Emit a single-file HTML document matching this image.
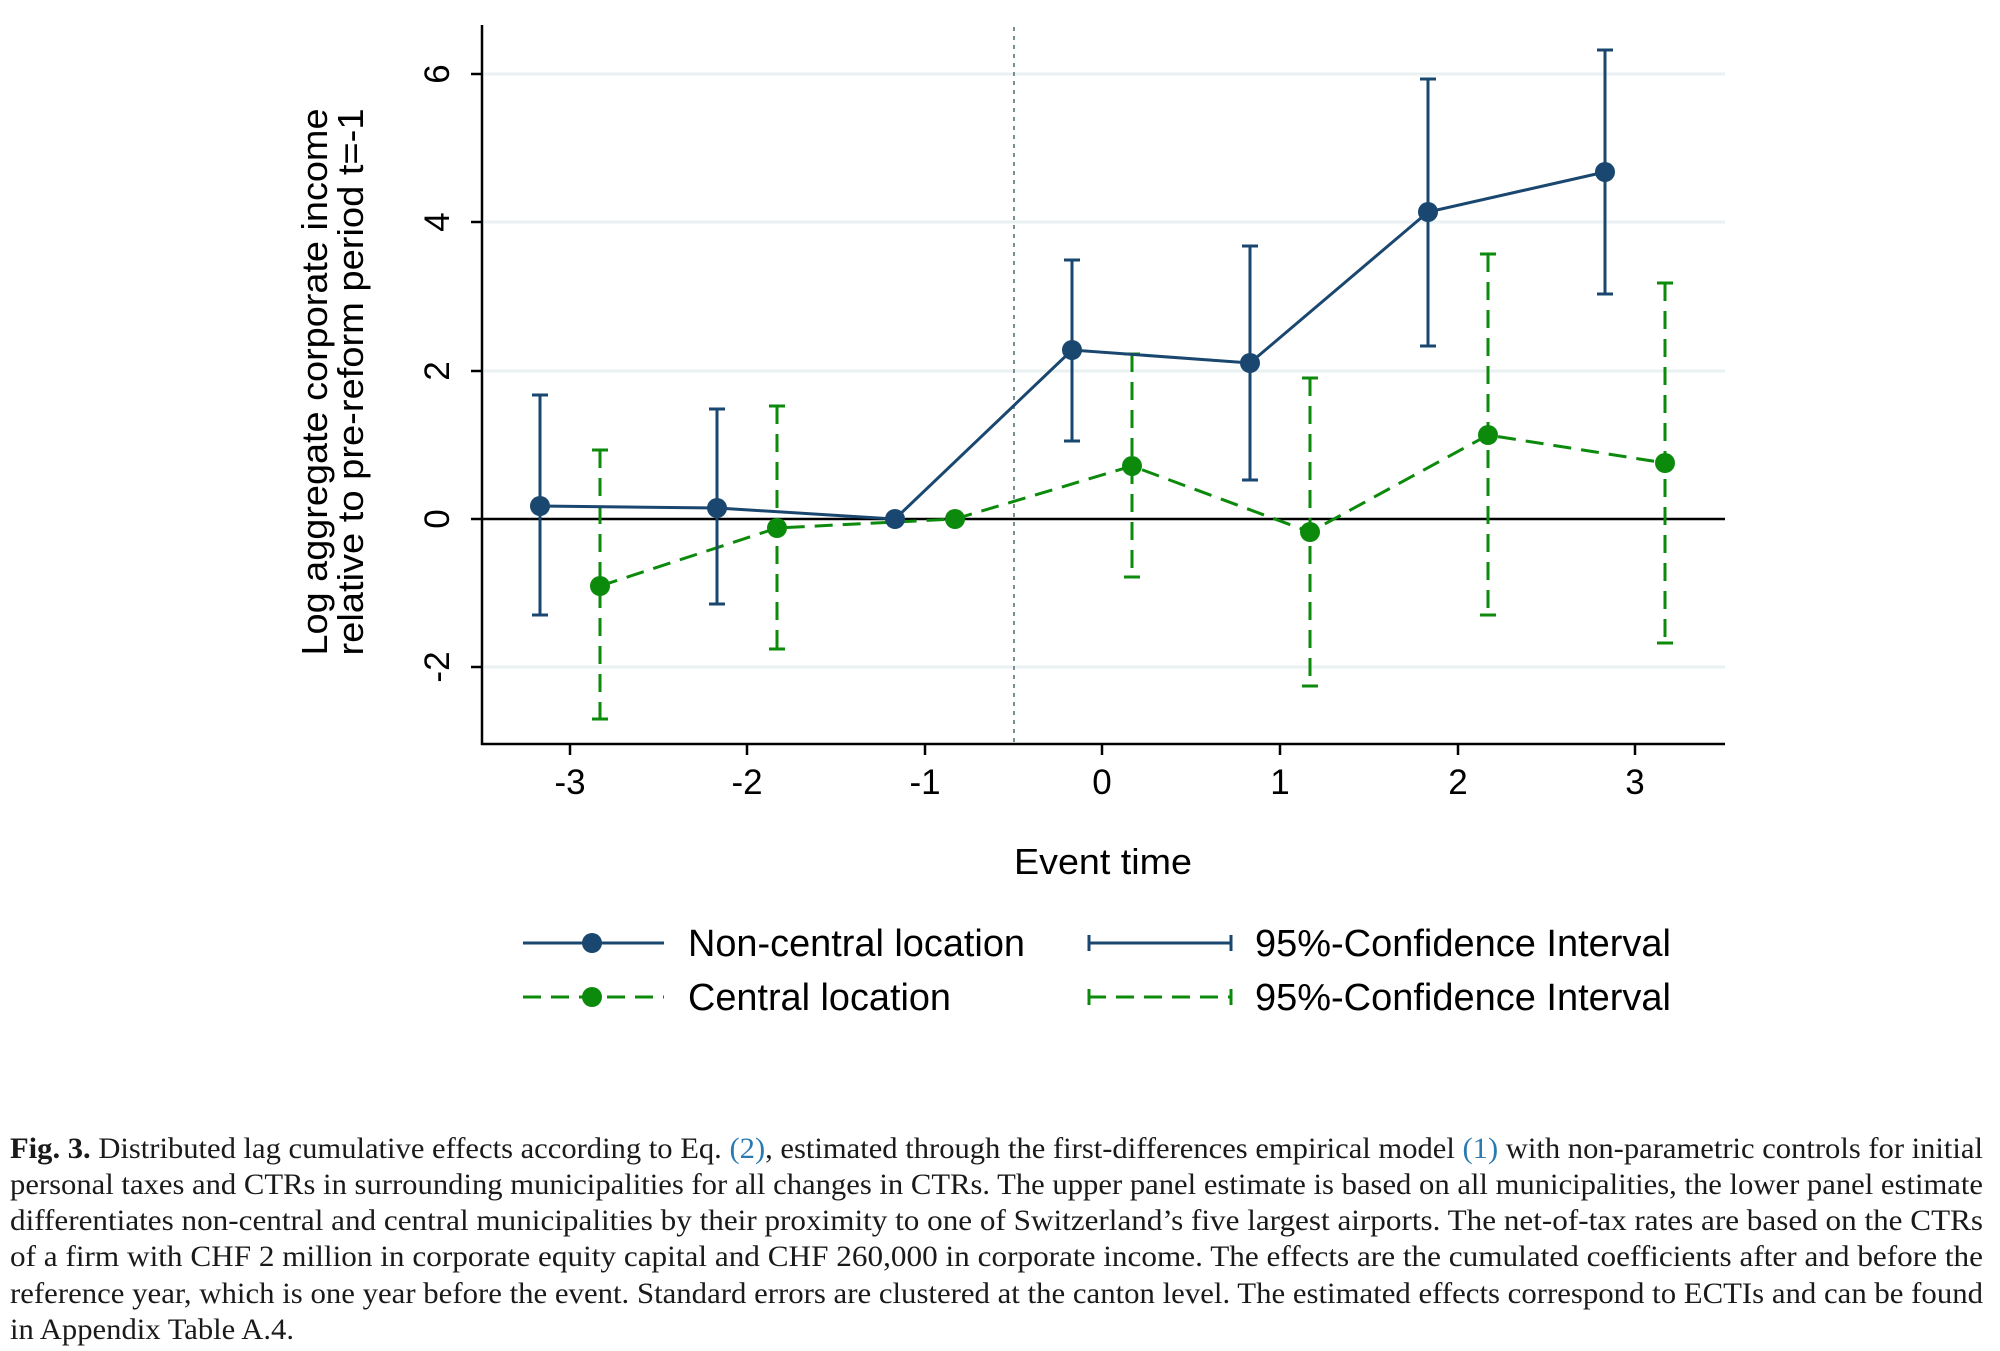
<!DOCTYPE html>
<html><head><meta charset="utf-8"><style>
html,body{margin:0;padding:0;background:#fff;}
svg{display:block;}
</style></head><body>
<svg width="2000" height="1351" viewBox="0 0 2000 1351" xmlns="http://www.w3.org/2000/svg">
<rect width="2000" height="1351" fill="#fff"/>
<g transform="translate(-3,-3)">
<!-- grid -->
<g stroke="#eaf1f3" stroke-width="3">
<line x1="487" y1="77" x2="1728" y2="77"/>
<line x1="487" y1="225" x2="1728" y2="225"/>
<line x1="487" y1="374" x2="1728" y2="374"/>
<line x1="487" y1="670" x2="1728" y2="670"/>
</g>
<line x1="485" y1="522" x2="1728" y2="522" stroke="#000" stroke-width="2.5"/>
<line x1="1017" y1="30" x2="1017" y2="747" stroke="#7a8f8f" stroke-width="2" stroke-dasharray="4,5"/>
<!-- axes -->
<g stroke="#000" stroke-width="2.5" fill="none">
<line x1="485" y1="28" x2="485" y2="748"/>
<line x1="484" y1="747" x2="1728" y2="747"/>
<line x1="474" y1="77" x2="485" y2="77"/><line x1="474" y1="225" x2="485" y2="225"/>
<line x1="474" y1="374" x2="485" y2="374"/><line x1="474" y1="522" x2="485" y2="522"/>
<line x1="474" y1="670" x2="485" y2="670"/>
<line x1="573" y1="747" x2="573" y2="758"/><line x1="750" y1="747" x2="750" y2="758"/>
<line x1="928" y1="747" x2="928" y2="758"/><line x1="1105" y1="747" x2="1105" y2="758"/>
<line x1="1283" y1="747" x2="1283" y2="758"/><line x1="1461" y1="747" x2="1461" y2="758"/>
<line x1="1638" y1="747" x2="1638" y2="758"/>
</g>
<g font-family="Liberation Sans, sans-serif" font-size="35" fill="#000" text-anchor="middle">
<text transform="translate(452,77) rotate(-90)">6</text>
<text transform="translate(452,225) rotate(-90)">4</text>
<text transform="translate(452,374) rotate(-90)">2</text>
<text transform="translate(452,522) rotate(-90)">0</text>
<text transform="translate(452,670) rotate(-90)">-2</text>
<text x="573" y="797">-3</text><text x="750" y="797">-2</text><text x="928" y="797">-1</text>
<text x="1105" y="797">0</text><text x="1283" y="797">1</text><text x="1461" y="797">2</text><text x="1638" y="797">3</text>
</g>
<g font-family="Liberation Sans, sans-serif" font-size="36" fill="#000" text-anchor="middle">
<text transform="translate(330,385) rotate(-90)" textLength="547" lengthAdjust="spacingAndGlyphs">Log aggregate corporate income</text>
<text transform="translate(366,385) rotate(-90)" textLength="547" lengthAdjust="spacingAndGlyphs">relative to pre-reform period t=-1</text>
<text x="1106" y="877" textLength="178" lengthAdjust="spacingAndGlyphs">Event time</text>
</g>
<!-- green CI -->
<g stroke="#0c8a0c" stroke-width="3" fill="none">
<g stroke-dasharray="18,10">
<line x1="603" y1="453" x2="603" y2="722"/><line x1="780" y1="409" x2="780" y2="652"/>
<line x1="1135" y1="357" x2="1135" y2="580"/><line x1="1313" y1="381" x2="1313" y2="689"/>
<line x1="1491" y1="257" x2="1491" y2="618"/><line x1="1668" y1="286" x2="1668" y2="646"/>
</g>
<line x1="595" y1="453" x2="611" y2="453"/><line x1="595" y1="722" x2="611" y2="722"/>
<line x1="772" y1="409" x2="788" y2="409"/><line x1="772" y1="652" x2="788" y2="652"/>
<line x1="1127" y1="357" x2="1143" y2="357"/><line x1="1127" y1="580" x2="1143" y2="580"/>
<line x1="1305" y1="381" x2="1321" y2="381"/><line x1="1305" y1="689" x2="1321" y2="689"/>
<line x1="1483" y1="257" x2="1499" y2="257"/><line x1="1483" y1="618" x2="1499" y2="618"/>
<line x1="1660" y1="286" x2="1676" y2="286"/><line x1="1660" y1="646" x2="1676" y2="646"/>
<polyline stroke-dasharray="18,10" points="603,589 780,531 958,522 1135,469 1313,535 1491,438 1668,466"/>
</g>
<!-- blue CI -->
<g stroke="#1a476f" stroke-width="3" fill="none">
<line x1="543" y1="398" x2="543" y2="618"/><line x1="720" y1="412" x2="720" y2="607"/>
<line x1="1075" y1="263" x2="1075" y2="444"/><line x1="1253" y1="249" x2="1253" y2="483"/>
<line x1="1431" y1="82" x2="1431" y2="349"/><line x1="1608" y1="53" x2="1608" y2="297"/>
<line x1="535" y1="398" x2="551" y2="398"/><line x1="535" y1="618" x2="551" y2="618"/>
<line x1="712" y1="412" x2="728" y2="412"/><line x1="712" y1="607" x2="728" y2="607"/>
<line x1="1067" y1="263" x2="1083" y2="263"/><line x1="1067" y1="444" x2="1083" y2="444"/>
<line x1="1245" y1="249" x2="1261" y2="249"/><line x1="1245" y1="483" x2="1261" y2="483"/>
<line x1="1423" y1="82" x2="1439" y2="82"/><line x1="1423" y1="349" x2="1439" y2="349"/>
<line x1="1600" y1="53" x2="1616" y2="53"/><line x1="1600" y1="297" x2="1616" y2="297"/>
<polyline points="543,509 720,511 898,522 1075,353 1253,366 1431,215 1608,175"/>
</g>
<g fill="#0c8a0c">
<circle cx="603" cy="589" r="10"/><circle cx="780" cy="531" r="10"/><circle cx="958" cy="522" r="10"/>
<circle cx="1135" cy="469" r="10"/><circle cx="1313" cy="535" r="10"/><circle cx="1491" cy="438" r="10"/><circle cx="1668" cy="466" r="10"/>
</g>
<g fill="#1a476f">
<circle cx="543" cy="509" r="10"/><circle cx="720" cy="511" r="10"/><circle cx="898" cy="522" r="10"/>
<circle cx="1075" cy="353" r="10"/><circle cx="1253" cy="366" r="10"/><circle cx="1431" cy="215" r="10"/><circle cx="1608" cy="175" r="10"/>
</g>
<!-- legend -->
<g stroke-width="3" fill="none">
<line x1="526" y1="946" x2="667" y2="946" stroke="#1a476f"/>
<line x1="526" y1="1000" x2="667" y2="1000" stroke="#0c8a0c" stroke-dasharray="18,10"/>
<line x1="1091" y1="946" x2="1235" y2="946" stroke="#1a476f"/>
<line x1="1092" y1="938" x2="1092" y2="954" stroke="#1a476f"/><line x1="1234" y1="938" x2="1234" y2="954" stroke="#1a476f"/>
<line x1="1091" y1="1000" x2="1235" y2="1000" stroke="#0c8a0c" stroke-dasharray="18,10"/>
<line x1="1092" y1="992" x2="1092" y2="1008" stroke="#0c8a0c"/><line x1="1234" y1="992" x2="1234" y2="1008" stroke="#0c8a0c"/>
</g>
<circle cx="595" cy="946" r="10" fill="#1a476f"/>
<circle cx="595" cy="1000" r="10" fill="#0c8a0c"/>
<g font-family="Liberation Sans, sans-serif" font-size="38" fill="#000">
<text x="691" y="959" textLength="337" lengthAdjust="spacingAndGlyphs">Non-central location</text>
<text x="691" y="1013" textLength="263" lengthAdjust="spacingAndGlyphs">Central location</text>
<text x="1258" y="959" textLength="416" lengthAdjust="spacingAndGlyphs">95%-Confidence Interval</text>
<text x="1258" y="1013" textLength="416" lengthAdjust="spacingAndGlyphs">95%-Confidence Interval</text>
</g>
</g>
<!-- caption -->
<g font-family="Liberation Serif, serif" font-size="30" fill="#1a1a1a">
<text x="10" y="1158" textLength="1973" lengthAdjust="spacingAndGlyphs"><tspan font-weight="bold">Fig. 3.</tspan>  Distributed lag cumulative effects according to Eq. <tspan fill="#2a7ab0">(2)</tspan>, estimated through the first-differences empirical model <tspan fill="#2a7ab0">(1)</tspan> with non-parametric controls for initial</text>
<text x="10" y="1194" textLength="1973" lengthAdjust="spacingAndGlyphs">personal taxes and CTRs in surrounding municipalities for all changes in CTRs. The upper panel estimate is based on all municipalities, the lower panel estimate</text>
<text x="10" y="1230" textLength="1973" lengthAdjust="spacingAndGlyphs">differentiates non-central and central municipalities by their proximity to one of Switzerland’s five largest airports. The net-of-tax rates are based on the CTRs</text>
<text x="10" y="1266" textLength="1973" lengthAdjust="spacingAndGlyphs">of a firm with CHF 2 million in corporate equity capital and CHF 260,000 in corporate income. The effects are the cumulated coefficients after and before the</text>
<text x="10" y="1303" textLength="1973" lengthAdjust="spacingAndGlyphs">reference year, which is one year before the event. Standard errors are clustered at the canton level. The estimated effects correspond to ECTIs and can be found</text>
<text x="10" y="1339" textLength="284" lengthAdjust="spacingAndGlyphs">in Appendix Table A.4.</text>
</g>
</svg>
</body></html>
